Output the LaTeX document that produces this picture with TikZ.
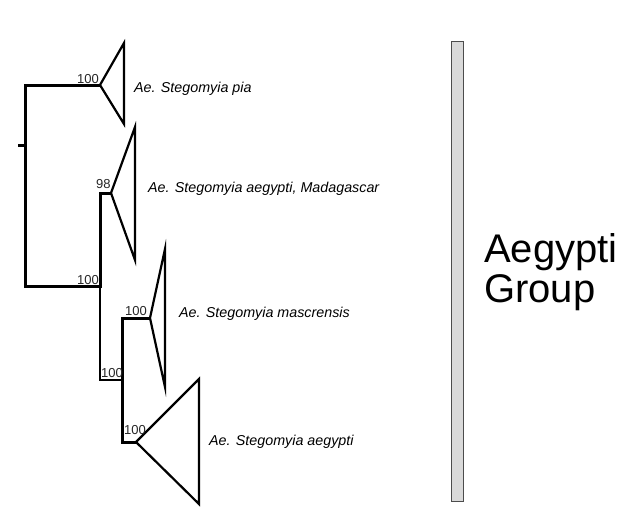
\documentclass[tikz,border=0pt]{standalone}
\usepackage{fontspec}
\setmainfont{Liberation Sans}
\usetikzlibrary{positioning}

\begin{document}
\begin{tikzpicture}[x=1pt,y=-1pt,
  br/.style={line width=3pt},
  thinbr/.style={line width=1.8pt},
  clade/.style={line width=2.2pt, line join=miter},
  boot/.style={font=\fontsize{13}{13}\selectfont, text=black!85, inner sep=0pt, anchor=base west},
  taxon/.style={font=\fontsize{14.3}{16}\selectfont\itshape, inner sep=0pt, anchor=base west},
  grouplbl/.style={font=\fontsize{40}{40}\selectfont, inner sep=0pt, anchor=base west}]
\useasboundingbox (0,0) rectangle (633,507);
% tree nodes
\coordinate (stem) at (18,145);
\coordinate (root) at (25,145);
\coordinate (pia) at (100,85);
\coordinate (mid) at (100,286);
\coordinate (mad) at (111,193);
\coordinate (sub) at (122,380);
\coordinate (masc) at (150,318);
\coordinate (aeg) at (136,442);
% branches
\draw[br] (stem) -- (root);
\draw[br] (pia) -| (root) |- (mid) |- (mad);
\draw[thinbr] (mid) |- (sub);
\draw[br] (masc) -| (sub) |- (aeg);
% collapsed clades
\draw[clade] (pia) -- (124,43) -- (124,124) -- cycle;
\draw[clade] (mad) -- (135,127) -- (135,260) -- cycle;
\draw[clade] (masc) -- (165,249) -- (165,387) -- cycle;
\draw[clade] (aeg) -- (199,379) -- (199,504) -- cycle;
% support values
\node[boot] (bpia) at (77,83) {100};
\node[boot] (bmad) at (96,188) {98};
\node[boot] (bmid) at (77,284) {100};
\node[boot] (bsub) at (101,377) {100};
\node[boot] (bmasc) at (125,315) {100};
\node[boot] (baeg) at (124,434) {100};
% taxa
\node[taxon] (tpia) at (134,92) {Ae. Stegomyia pia};
\node[taxon] (tmad) at (148,192) {Ae. Stegomyia aegypti, Madagascar};
\node[taxon] (tmasc) at (179,317) {Ae. Stegomyia mascrensis};
\node[taxon] (taeg) at (209,445) {Ae. Stegomyia aegypti};
% group bar
\draw[fill=black!15, draw=black!70, line width=1pt] (451,41) rectangle (463,501);
\node[grouplbl] (grp1) at (484,262) {Aegypti};
\node[grouplbl] (grp2) at (484,302) {Group};
\end{tikzpicture}
\end{document}
